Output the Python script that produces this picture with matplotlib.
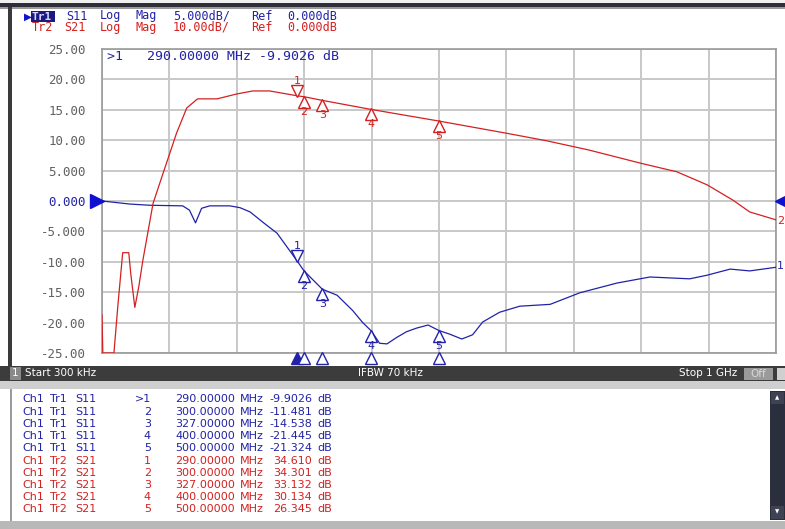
import matplotlib
matplotlib.use("Agg")
import matplotlib.pyplot as plt
import matplotlib.patches as mpatches
import matplotlib.transforms as mtransforms
import numpy as np

W, H = 785, 529

# traces (MHz, dB)
s11_freq = [0.3, 41.5, 71, 120, 130, 139, 148, 160, 190, 205, 220, 239, 260, 290,
            300, 327, 349, 372, 387, 400, 412, 423, 438, 452, 467, 484, 500, 516,
            534, 550, 565, 590, 620, 665, 709, 764, 813, 872, 898, 932, 961, 1000]
s11_db = [0.0, -0.5, -0.7, -0.8, -1.5, -3.6, -1.2, -0.8, -0.8, -1.1, -1.8, -3.5, -5.3, -9.9,
          -11.5, -14.5, -15.5, -18.0, -20.0, -21.4, -23.4, -23.5, -22.4, -21.5, -20.9, -20.4, -21.3, -21.9,
          -22.7, -22.0, -19.9, -18.3, -17.3, -17.0, -15.1, -13.5, -12.5, -12.8, -12.2, -11.2, -11.5, -10.9]

s21_freq = [0.3, 1.5, 18, 24, 31, 40, 43, 49, 55, 61, 76, 91, 111, 126, 142, 171, 200,
            224, 249, 290, 300, 327, 400, 500, 600, 660, 722, 798, 853, 898, 936, 961, 1000]
s21_db = [-37.5, -50, -50, -34, -17, -17, -24, -35, -28, -19.4, -0.8, 9.2, 22.4, 30.6, 33.6, 33.6, 35.2,
          36.2, 36.2, 34.6, 34.3, 33.1, 30.1, 26.3, 22.3, 19.8, 16.8, 12.5, 9.6, 5.3, 0.3, -3.6, -6.2]

# markers
mk_names = ["1", "2", "3", "4", "5"]
mk_freq = [290.0, 300.0, 327.0, 400.0, 500.0]
mk_s11 = [-9.9026, -11.481, -14.538, -21.445, -21.324]
mk_s21 = [34.610, 34.301, 33.132, 30.134, 26.345]

ytick_vals = [25, 20, 15, 10, 5, 0, -5, -10, -15, -20, -25]
ytick_labels = ["25.00", "20.00", "15.00", "10.00", "5.000", "0.000",
                "-5.000", "-10.00", "-15.00", "-20.00", "-25.00"]

f_start, f_stop = 0.3, 1000.0

BLUE = "#2222a8"
RED = "#d42020"
GRID = "#c8c8c8"
MONO = "DejaVu Sans Mono"
SANS = "DejaVu Sans"


def fx(x):
    return x / W


def fy(y):
    return 1 - y / H


fig = plt.figure(figsize=(W / 100, H / 100), dpi=100)
fig.patch.set_facecolor("white")


def box(x0, y0, x1, y1, color, z=0):
    fig.patches.append(mpatches.Rectangle((fx(x0), fy(y1)), (x1 - x0) / W, (y1 - y0) / H,
                                          transform=fig.transFigure, facecolor=color,
                                          edgecolor="none", zorder=z))


# window frame
box(0, 0, W, 3, "#f0f0f0")
box(0, 3, W, 7, "#2e2e38")
box(0, 7, W, 9, "#9a9a9a")
box(8, 7, 12, 366, "#3a3a3a")
box(0, 366, W, 381, "#3c3c3c")
box(10, 367, 21, 380, "#8a8a8a", 1)
box(744, 368, 773, 380, "#9a9a9a", 1)
box(777, 368, W, 380, "#d0d0d0", 1)
box(0, 381, W, 389, "#cfcfcf")
box(10, 389, 780, 521, "#ffffff")
box(10, 389, 12, 521, "#9a9a9a")
box(0, 521, W, H, "#b8b8b8")
box(770, 391, W, 520, "#2b2e3c", 1)
box(771, 392, 784, 404, "#3e4252", 2)
box(771, 506, 784, 519, "#3e4252", 2)
fig.text(fx(777.5), fy(398), "\u25b2", color="white", fontsize=4, ha="center", va="center", zorder=3)
fig.text(fx(777.5), fy(512), "\u25bc", color="white", fontsize=4, ha="center", va="center", zorder=3)

# plot area
ax = fig.add_axes([fx(102), fy(353), 674 / W, 304 / H])
ax.set_xlim(f_start, f_stop)
ax.set_ylim(-25, 25)
ax.set_xticks(np.linspace(f_start, f_stop, 11))
ax.set_xticklabels([])
ax.set_yticks(ytick_vals)
ax.set_yticklabels(ytick_labels)
ax.tick_params(length=0, pad=11.5)
for lab in ax.get_yticklabels():
    lab.set_fontfamily(MONO)
    lab.set_fontsize(9)
    lab.set_color(BLUE if lab.get_text() == "0.000" else "#606060")
ax.grid(True, color=GRID, linewidth=1.4)
ax.set_axisbelow(True)
for sp in ax.spines.values():
    sp.set_color("#9a9a9a")
    sp.set_linewidth(1.2)

ax2 = ax.twinx()
ax2.set_ylim(-50, 50)
ax2.set_yticks([])
for sp in ax2.spines.values():
    sp.set_visible(False)

ax.plot(s11_freq, s11_db, color=BLUE, linewidth=0.9, zorder=3)
ax2.plot(s21_freq, s21_db, color=RED, linewidth=0.9, zorder=3)


def put_markers(a, vals, color):
    for i, (name, f, v) in enumerate(zip(mk_names, mk_freq, vals)):
        if i == 0:
            tri = mtransforms.offset_copy(a.transData, fig=fig, x=0, y=5, units="dots")
            a.plot([f], [v], marker="v", markersize=8, mfc="white", mec=color, mew=1.0,
                   transform=tri, zorder=5, clip_on=False)
            txt = mtransforms.offset_copy(a.transData, fig=fig, x=0, y=15, units="dots")
            a.text(f, v, name, color=color, fontsize=8, family=SANS, ha="center",
                   va="center", transform=txt, zorder=5)
        else:
            tri = mtransforms.offset_copy(a.transData, fig=fig, x=0, y=-5, units="dots")
            a.plot([f], [v], marker="^", markersize=8, mfc="white", mec=color, mew=1.0,
                   transform=tri, zorder=5, clip_on=False)
            txt = mtransforms.offset_copy(a.transData, fig=fig, x=0, y=-15, units="dots")
            a.text(f, v, name, color=color, fontsize=8, family=SANS, ha="center",
                   va="center", transform=txt, zorder=5)


put_markers(ax, mk_s11, BLUE)
put_markers(ax2, mk_s21, RED)

# stimulus markers along the bottom edge
bottom = mtransforms.offset_copy(ax.transData, fig=fig, x=0, y=-5, units="dots")
for i, f in enumerate(mk_freq):
    ax.plot([f], [-25], marker="^", markersize=9, mfc=BLUE if i == 0 else "white",
            mec=BLUE, mew=1.0, transform=bottom, clip_on=False, zorder=6)

# reference level arrows and trace end labels
ax.plot([f_start], [0], marker=">", markersize=10, color="#1010d0", clip_on=False,
        transform=mtransforms.offset_copy(ax.transData, fig=fig, x=-5, y=0, units="dots"), zorder=6)
ax.plot([f_stop], [0], marker="<", markersize=10, color="#1010d0", clip_on=False,
        transform=mtransforms.offset_copy(ax.transData, fig=fig, x=6, y=0, units="dots"), zorder=6)
ax.text(f_stop, s11_db[-1], "1", color=BLUE, fontsize=8, family=SANS, ha="left", va="center",
        transform=mtransforms.offset_copy(ax.transData, fig=fig, x=1, y=1, units="dots"), clip_on=False)
ax2.text(f_stop, s21_db[-1], "2", color=RED, fontsize=8, family=SANS, ha="left", va="center",
         transform=mtransforms.offset_copy(ax2.transData, fig=fig, x=1, y=-1, units="dots"), clip_on=False)

# active marker readout
ax.text(fx(107), fy(57), ">1   290.00000 MHz -9.9026 dB", transform=fig.transFigure,
        color=BLUE, fontsize=9.5, family=MONO, ha="left", va="center", zorder=7)

# channel header
fig.text(fx(24), fy(16.5), "\u25b6", color="#1010d0", fontsize=7.5, ha="left", va="center")
box(31, 11, 55, 22, "#1a1a80", 1)
fig.text(fx(32), fy(16.5), "Tr1", color="#d8d8ff", fontsize=8, family=MONO, ha="left",
         va="center", weight="bold", zorder=2)
head1 = [(66, "S11"), (100, "Log"), (135, "Mag"), (173, "5.000dB/"), (251, "Ref"), (287, "0.000dB")]
head2 = [(32, "Tr2"), (64, "S21"), (100, "Log"), (135, "Mag"), (173, "10.00dB/"), (251, "Ref"), (287, "0.000dB")]
for x, s in head1:
    fig.text(fx(x), fy(16), s, color=BLUE, fontsize=8.5, family=MONO, ha="left", va="center")
for x, s in head2:
    fig.text(fx(x), fy(27.5), s, color=RED, fontsize=8.5, family=MONO, ha="left", va="center")

# status bar
fig.text(fx(15.5), fy(373.5), "1", color="white", fontsize=7.5, family=SANS, ha="center", va="center", zorder=2)
fig.text(fx(25), fy(373.5), "Start 300 kHz", color="white", fontsize=7.5, family=SANS, ha="left", va="center")
fig.text(fx(390), fy(373.5), "IFBW 70 kHz", color="white", fontsize=7.5, family=SANS, ha="center", va="center")
fig.text(fx(737), fy(373.5), "Stop 1 GHz", color="white", fontsize=7.5, family=SANS, ha="right", va="center")
fig.text(fx(758.5), fy(374), "Off", color="#d8d8d8", fontsize=7.5, family=SANS, ha="center", va="center", zorder=2)

# marker table
tbl_trace = ["Tr1"] * 5 + ["Tr2"] * 5
tbl_param = ["S11"] * 5 + ["S21"] * 5
tbl_mark = [">1", "2", "3", "4", "5"] + mk_names
tbl_freq = ["290.00000", "300.00000", "327.00000", "400.00000", "500.00000"] * 2
tbl_val = ["-9.9026", "-11.481", "-14.538", "-21.445", "-21.324",
           "34.610", "34.301", "33.132", "30.134", "26.345"]
for i in range(10):
    y = fy(399.5 + i * 12.2)
    c = BLUE if i < 5 else RED
    kw = dict(color=c, fontsize=8, family=SANS, va="center")
    fig.text(fx(22), y, "Ch1", ha="left", **kw)
    fig.text(fx(50), y, tbl_trace[i], ha="left", **kw)
    fig.text(fx(75), y, tbl_param[i], ha="left", **kw)
    fig.text(fx(151), y, tbl_mark[i], ha="right", **kw)
    fig.text(fx(175), y, tbl_freq[i], ha="left", **kw)
    fig.text(fx(240), y, "MHz", ha="left", **kw)
    fig.text(fx(312), y, tbl_val[i], ha="right", **kw)
    fig.text(fx(317), y, "dB", ha="left", **kw)

fig.savefig("out.png", dpi=100)
